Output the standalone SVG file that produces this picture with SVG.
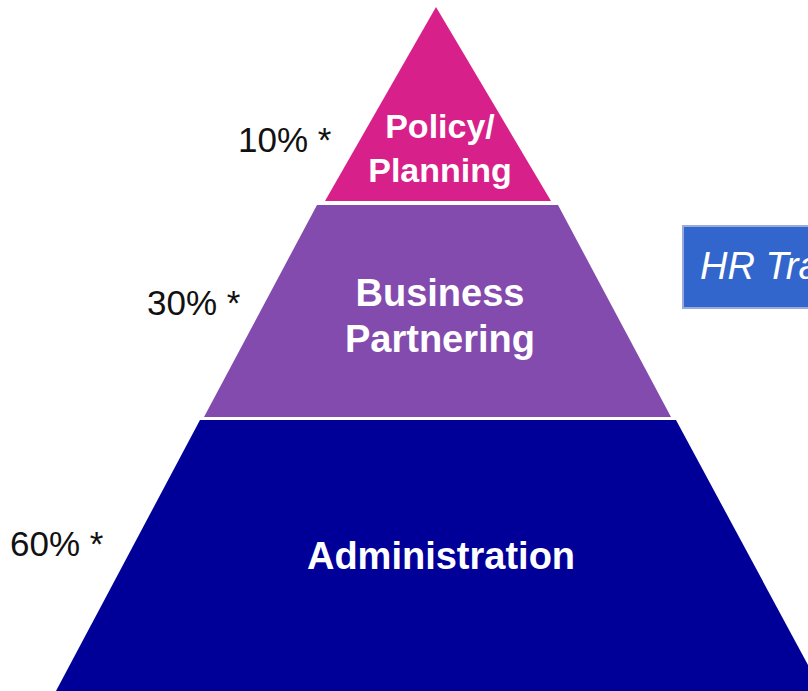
<svg xmlns="http://www.w3.org/2000/svg" width="808" height="691" viewBox="0 0 808 691">
  <style>
    .tier-label { font-family: "Liberation Sans", Arial, sans-serif; font-weight: bold; fill: #ffffff; text-anchor: middle; }
    .pct { font-family: "Liberation Sans", Arial, sans-serif; font-size: 35px; fill: #111111; }
  </style>
  <rect x="0" y="0" width="808" height="691" fill="#ffffff"/>

  <g id="tier-policy">
    <polygon points="436,7 551,201 325,201" fill="#D8208A"/>
    <text class="tier-label" font-size="34" x="440" y="138">Policy/</text>
    <text class="tier-label" font-size="34" x="440" y="182">Planning</text>
  </g>

  <g id="tier-business">
    <polygon points="317,205 558,205 671,417 204,417" fill="#834BAD"/>
    <text class="tier-label" font-size="38" x="440" y="306">Business</text>
    <text class="tier-label" font-size="38" x="440" y="352">Partnering</text>
  </g>

  <g id="tier-admin">
    <polygon points="200,420 676,420 822,691 56,691" fill="#000099"/>
    <text class="tier-label" font-size="38" x="441" y="569">Administration</text>
  </g>

  <g id="labels">
    <text class="pct" x="238" y="152">10% *</text>
    <text class="pct" x="147" y="315">30% *</text>
    <text class="pct" x="10" y="556">60% *</text>
  </g>

  <g id="hr-box">
    <rect x="683" y="226" width="130" height="82" fill="#3366CC" stroke="#9AAADD" stroke-width="2"/>
    <text x="700" y="279" font-family="Liberation Sans, Arial, sans-serif" font-style="italic" font-size="38" fill="#ffffff">HR Tra</text>
  </g>
</svg>
